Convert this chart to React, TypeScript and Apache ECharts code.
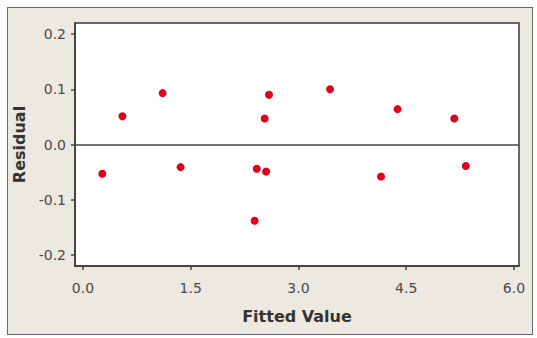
import React, { useEffect, useRef } from "react";
import * as echarts from "echarts";

const fittedValues = [0.27, 0.55, 1.11, 1.36, 2.39, 2.42, 2.55, 2.53, 2.59, 3.44, 4.15, 4.38, 5.17, 5.33];
const residuals = [-0.053, 0.051, 0.093, -0.041, -0.138, -0.044, -0.049, 0.047, 0.09, 0.1, -0.058, 0.064, 0.047, -0.039];
const xTicks = [0, 1.5, 3, 4.5, 6];
const yTicks = [-0.2, -0.1, 0, 0.1, 0.2];

export default function App() {
  const ref = useRef<HTMLDivElement>(null);
  useEffect(() => {
    document.body.style.margin = "0";
    if (!ref.current) return;
    const chart = echarts.init(ref.current, null, { renderer: "svg" });
    const font = "DejaVu Sans";
    chart.setOption({
      animation: false,
      grid: {
        left: 75,
        top: 23,
        right: 18,
        bottom: 72,
        show: true,
        backgroundColor: "#ffffff",
        borderColor: "#3a3a3a",
        borderWidth: 1.5,
      },
      xAxis: {
        type: "value",
        min: -0.11,
        max: 6.07,
        name: "Fitted Value",
        nameLocation: "middle",
        nameGap: 42,
        nameTextStyle: { fontFamily: font, fontWeight: "bold", fontSize: 16, color: "#333" },
        axisLine: { show: true, onZero: false, lineStyle: { color: "#3a3a3a", width: 1.5 } },
        splitLine: { show: false },
        axisTick: { show: true, length: 4, inside: false, customValues: xTicks, lineStyle: { color: "#444", width: 1.5 } },
        axisLabel: {
          customValues: xTicks,
          formatter: (v: number) => v.toFixed(1),
          fontFamily: font,
          fontSize: 14,
          color: "#4a4a4a",
          margin: 15,
        },
      },
      yAxis: {
        type: "value",
        min: -0.22,
        max: 0.22,
        name: "Residual",
        nameLocation: "middle",
        nameGap: 45,
        nameTextStyle: { fontFamily: font, fontWeight: "bold", fontSize: 16, color: "#333" },
        axisLine: { show: true, onZero: false, lineStyle: { color: "#3a3a3a", width: 1.5 } },
        splitLine: { show: false },
        axisTick: { show: true, length: 4, inside: false, customValues: yTicks, lineStyle: { color: "#444", width: 1.5 } },
        axisLabel: {
          customValues: yTicks,
          formatter: (v: number) => v.toFixed(1),
          fontFamily: font,
          fontSize: 14,
          color: "#4a4a4a",
          margin: 9,
        },
      },
      series: [
        {
          type: "scatter",
          data: fittedValues.map((x, i) => [x, residuals[i]]),
          symbol: "circle",
          symbolSize: 8,
          itemStyle: { color: "#e0001b", opacity: 1 },
          markLine: {
            silent: true,
            symbol: "none",
            label: { show: false },
            lineStyle: { color: "#444", width: 1.5, type: "solid" },
            data: [{ yAxis: 0 }],
          },
        },
      ],
    });
    return () => chart.dispose();
  }, []);
  return (
    <div style={{ position: "relative", width: 537, height: 338, background: "#ffffff" }}>
      <div
        style={{
          position: "absolute",
          left: 7,
          top: 7,
          width: 524,
          height: 326,
          background: "#ece9e0",
          border: "1.5px solid #666",
        }}
      />
      <div ref={ref} style={{ position: "absolute", left: 0, top: 0, width: 537, height: 338 }} />
    </div>
  );
}
